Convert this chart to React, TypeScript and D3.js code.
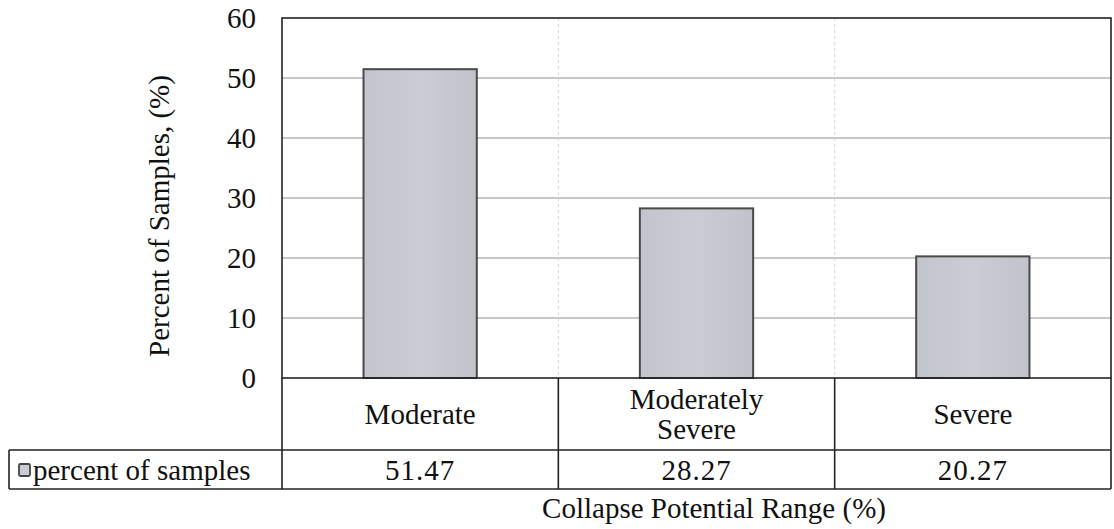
import React from "react";
import * as d3 from "d3";

const categories: string[][] = [["Moderate"], ["Moderately", "Severe"], ["Severe"]];
const values: number[] = [51.47, 28.27, 20.27];
const valueLabels: string[] = ["51.47", "28.27", "20.27"];
const yTicks: number[] = [0, 10, 20, 30, 40, 50, 60];
const seriesName = "percent of samples";
const yTitle = "Percent of Samples, (%)";
const xTitle = "Collapse Potential Range (%)";

const W = 1114;
const H = 529;
const left = 282;
const right = 1111;
const top = 18;
const bottom = 378;
const row1 = 450;
const row2 = 489;
const legendLeft = 9;
const font = "'Liberation Serif', 'Times New Roman', serif";
const fs = 29;

export default function App() {
  const keys = categories.map((_, i) => String(i));
  const x = d3.scaleBand<string>().domain(keys).range([left, right]).paddingInner(0.59).paddingOuter(0.295);
  const xCell = d3.scaleBand<string>().domain(keys).range([left, right]).padding(0);
  const y = d3.scaleLinear().domain([0, 60]).range([bottom, top]);

  return (
    <svg width={W} height={H} style={{ position: "absolute", left: 0, top: 0, background: "#fff" }}>
      <defs>
        <linearGradient id="barg" x1="0" x2="1" y1="0" y2="0">
          <stop offset="0" stopColor="#c2c5cc" />
          <stop offset="0.5" stopColor="#cacdd3" />
          <stop offset="1" stopColor="#c0c3c9" />
        </linearGradient>
      </defs>
      {/* gridlines */}
      {yTicks.filter((t) => t > 0 && t < 60).map((t) => (
        <line key={t} x1={left} x2={right} y1={y(t)} y2={y(t)} stroke="#8f8f8f" strokeWidth={1} />
      ))}
      {keys.slice(1).map((k) => (
        <line key={"v" + k} x1={xCell(k)!} x2={xCell(k)!} y1={top} y2={bottom} stroke="#d4d4d4" strokeWidth={1} strokeDasharray="3,3" />
      ))}
      {/* bars */}
      {values.map((v, i) => (
        <rect key={i} x={x(keys[i])!} y={y(v)} width={x.bandwidth()} height={y(0) - y(v)}
          fill="url(#barg)" stroke="#4a4a4a" strokeWidth={2} />
      ))}
      {/* plot border */}
      <rect x={left} y={top} width={right - left} height={bottom - top} fill="none" stroke="#222" strokeWidth={1.6} />
      {/* y tick labels */}
      {yTicks.map((t) => (
        <text key={t} x={256} y={y(t)} dy="0.35em" textAnchor="end" fontFamily={font} fontSize={fs} fill="#111">{t}</text>
      ))}
      {/* y title */}
      <text transform={`translate(169,216) rotate(-90)`} textAnchor="middle"
        fontFamily={font} fontSize={fs} fill="#111">{yTitle}</text>
      {/* data table */}
      <g stroke="#222" strokeWidth={1.6} fill="none">
        <line x1={left} x2={left} y1={bottom} y2={row2} />
        {keys.map((k) => (
          <line key={k} x1={xCell(k)! + xCell.bandwidth()} x2={xCell(k)! + xCell.bandwidth()} y1={bottom} y2={row2} />
        ))}
        <line x1={legendLeft} x2={right} y1={row1} y2={row1} />
        <line x1={legendLeft} x2={right} y1={row2} y2={row2} />
        <line x1={legendLeft} x2={legendLeft} y1={row1} y2={row2} />
      </g>
      {categories.map((lines, i) => {
        const cx = xCell(keys[i])! + xCell.bandwidth() / 2;
        const cy = (bottom + row1) / 2;
        const lh = 30;
        return (
          <text key={i} textAnchor="middle" fontFamily={font} fontSize={fs} fill="#111">
            {lines.map((l, j) => (
              <tspan key={j} x={cx} y={cy + (j - (lines.length - 1) / 2) * lh} dy="0.35em">{l}</tspan>
            ))}
          </text>
        );
      })}
      {valueLabels.map((v, i) => (
        <text key={i} x={xCell(keys[i])! + xCell.bandwidth() / 2} y={(row1 + row2) / 2} dy="0.35em"
          textAnchor="middle" fontFamily={font} fontSize={fs} letterSpacing={1} fill="#111">{v}</text>
      ))}
      {/* legend key */}
      <rect x={19} y={464} width={11} height={12} fill="#c9ccd2" stroke="#444" strokeWidth={1.8} rx={1.5} />
      <text x={33} y={(row1 + row2) / 2} dy="0.35em" fontFamily={font} fontSize={fs} fill="#111">{seriesName}</text>
      {/* x title */}
      <text x={714} y={518} textAnchor="middle" fontFamily={font} fontSize={fs} fill="#111">{xTitle}</text>
    </svg>
  );
}
